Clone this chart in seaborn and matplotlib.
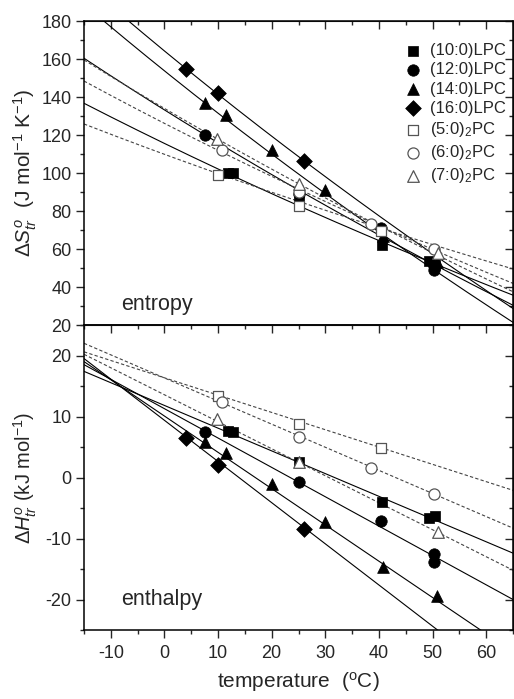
import numpy as np
import pandas as pd
import matplotlib
matplotlib.use("Agg")
import matplotlib.pyplot as plt
from matplotlib.ticker import MultipleLocator
import seaborn as sns

# ---------------- data ----------------
series = ["(10:0)LPC", "(12:0)LPC", "(14:0)LPC", "(16:0)LPC",
          "(5:0)$_2$PC", "(6:0)$_2$PC", "(7:0)$_2$PC"]

LPC10_T = [11.8, 12.7, 25, 40.5, 49.3, 50.5]
LPC10_S = [100, 100, 84.5, 62, 53.5, 51.8]
LPC10_H = [7.7, 7.4, 2.6, -4.0, -6.7, -6.3]

LPC12_T = [7.5, 25, 40.3, 50.3, 50.3]
LPC12_S = [120, 89, 71, 51, 49]
LPC12_H = [7.4, -0.7, -7.1, -12.5, -13.8]

LPC14_T = [7.5, 11.5, 20, 30, 40.8, 50.8]
LPC14_S = [137, 130.5, 112, 91, 67, 53]
LPC14_H = [5.9, 4.0, -1.0, -7.3, -14.7, -19.5]

LPC16_T = [4, 10, 26]
LPC16_S = [155, 142, 106.5]
LPC16_H = [6.4, 2.1, -8.4]

PC5_T = [10, 25, 40.3]
PC5_S = [99, 82.5, 69.7]
PC5_H = [13.4, 8.7, 4.9]

PC6_T = [10.8, 25, 38.5, 50.3]
PC6_S = [112, 90, 73, 60]
PC6_H = [12.4, 6.7, 1.5, -2.7]

PC7_T = [9.8, 25, 51]
PC7_S = [118, 94, 57.7]
PC7_H = [9.6, 2.5, -9.0]

# fit curves: values read at the ends of the temperature range
fit_T_range = [-15, 65]
fit_S_lo = [136.7, 160.4, 188.8, 200.1, 125.8, 148.4, 159.5]
fit_S_hi = [35.7, 30.4, 21.4, 28.7, 49.5, 41.9, 37.5]
fit_H_lo = [17.4, 18.5, 19.0, 19.5, 20.6, 22.0, 20.2]
fit_H_hi = [-12.4, -20.0, -28.6, -34.5, -2.1, -8.3, -15.2]

T_all = [LPC10_T, LPC12_T, LPC14_T, LPC16_T, PC5_T, PC6_T, PC7_T]
S_all = [LPC10_S, LPC12_S, LPC14_S, LPC16_S, PC5_S, PC6_S, PC7_S]
H_all = [LPC10_H, LPC12_H, LPC14_H, LPC16_H, PC5_H, PC6_H, PC7_H]

# ---------------- styling ----------------
sns.set_style("ticks")
plt.rcParams["font.family"] = ["Liberation Sans", "DejaVu Sans"]
plt.rcParams["mathtext.fontset"] = "custom"
plt.rcParams["mathtext.rm"] = "Liberation Sans"
plt.rcParams["mathtext.it"] = "Liberation Sans:italic"
plt.rcParams["mathtext.bf"] = "Liberation Sans:bold"
plt.rcParams["axes.unicode_minus"] = False

markers = ["s", "o", "^", "D", "s", "o", "^"]
msizes = [56, 68, 72, 64, 50, 64, 70]
filled = [True, True, True, True, False, False, False]
linestyles = ["-", "-", "-", "-", (0, (3, 2)), (0, (3, 2)), (0, (3, 2))]

# long-form tables
rows = []
for name, T, S, H in zip(series, T_all, S_all, H_all):
    for t, s, h in zip(T, S, H):
        rows.append((name, t, s, h))
pts = pd.DataFrame(rows, columns=["series", "T", "S", "H"])

fit_rows = []
Tk0, Tk1 = fit_T_range[0] + 273.15, fit_T_range[1] + 273.15
tgrid = np.linspace(fit_T_range[0], fit_T_range[1], 161)
for i, name in enumerate(series):
    frac_log = np.log((tgrid + 273.15) / Tk0) / np.log(Tk1 / Tk0)
    frac_lin = (tgrid - fit_T_range[0]) / (fit_T_range[1] - fit_T_range[0])
    s_curve = fit_S_lo[i] + (fit_S_hi[i] - fit_S_lo[i]) * frac_log
    h_curve = fit_H_lo[i] + (fit_H_hi[i] - fit_H_lo[i]) * frac_lin
    for t, s, h in zip(tgrid, s_curve, h_curve):
        fit_rows.append((name, t, s, h))
fits = pd.DataFrame(fit_rows, columns=["series", "T", "S", "H"])

W, Hh = 514, 699
fig = plt.figure(figsize=(W / 100, Hh / 100), dpi=100)
left = 84 / W
width = (513 - 84) / W
ax1 = fig.add_axes([left, 1 - 325 / Hh, width, (325 - 21) / Hh])
ax2 = fig.add_axes([left, 1 - 630 / Hh, width, (630 - 325) / Hh])

for ax, col in [(ax1, "S"), (ax2, "H")]:
    for i, name in enumerate(series):
        d = fits[fits.series == name]
        sns.lineplot(data=d, x="T", y=col, ax=ax, color="black" if filled[i] else "#444444",
                     lw=0.8, linestyle=linestyles[i], estimator=None, sort=False,
                     legend=False, zorder=2)
    for i, name in enumerate(series):
        d = pts[pts.series == name]
        if filled[i]:
            sns.scatterplot(data=d, x="T", y=col, ax=ax, marker=markers[i], s=msizes[i],
                            color="black", edgecolor="black", linewidth=0.5,
                            label=name, zorder=3)
        else:
            sns.scatterplot(data=d, x="T", y=col, ax=ax, marker=markers[i], s=msizes[i],
                            facecolor="white", edgecolor="#555555", linewidth=0.9,
                            label=name, zorder=4)

    ax.set_xlim(-15, 65)
    ax.xaxis.set_major_locator(MultipleLocator(10))
    ax.xaxis.set_minor_locator(MultipleLocator(5))
    for sp in ax.spines.values():
        sp.set_visible(True)
        sp.set_linewidth(1.1)
        sp.set_color("black")


def add_inner(ax, which_axis, major, minor):
    if which_axis == "right":
        sec = ax.secondary_yaxis("right")
        sec.yaxis.set_major_locator(MultipleLocator(major))
        sec.yaxis.set_minor_locator(MultipleLocator(minor))
        sec.tick_params(which="both", direction="in", labelright=False)
    else:
        sec = ax.secondary_xaxis("top")
        sec.xaxis.set_major_locator(MultipleLocator(major))
        sec.xaxis.set_minor_locator(MultipleLocator(minor))
        sec.tick_params(which="both", direction="in", labeltop=False)
    sec.tick_params(which="major", length=5.5, width=1.0)
    sec.tick_params(which="minor", length=3, width=1.0)
    return sec


# top panel
ax1.set_ylim(20, 180)
ax1.yaxis.set_major_locator(MultipleLocator(20))
ax1.yaxis.set_minor_locator(MultipleLocator(10))
ax1.tick_params(axis="x", which="both", bottom=False, top=False, labelbottom=False)
ax1.tick_params(axis="y", which="both", left=True, right=False, direction="out")
ax1.tick_params(which="major", length=5.5, width=1.0, labelsize=13)
ax1.tick_params(which="minor", length=3, width=1.0)
add_inner(ax1, "top", 10, 5)
add_inner(ax1, "right", 20, 10)
ax1.set_xlabel("")
ax1.set_ylabel(r"$\Delta S^{o}_{tr}$  (J mol$^{-1}$ K$^{-1}$)", fontsize=15)
ax1.yaxis.set_label_coords(-0.105, 0.5)
ax1.text(-8, 31, "entropy", fontsize=15.5, ha="left", va="center")

handles, labels = ax1.get_legend_handles_labels()
ax1.legend(handles, labels, loc="upper right", bbox_to_anchor=(1.01, 0.965), frameon=False,
           fontsize=12, handletextpad=0.5, labelspacing=0.25, borderaxespad=0.3,
           handlelength=1.0)

# bottom panel
ax2.set_ylim(-25, 25)
ax2.yaxis.set_major_locator(MultipleLocator(10))
ax2.yaxis.set_minor_locator(MultipleLocator(5))
ax2.tick_params(axis="x", which="both", bottom=True, top=False, direction="out")
ax2.tick_params(axis="x", which="major", pad=5)
ax2.tick_params(axis="y", which="both", left=True, right=False, direction="out")
ax2.tick_params(which="major", length=5.5, width=1.0, labelsize=13)
ax2.tick_params(which="minor", length=3, width=1.0)
add_inner(ax2, "top", 10, 5)
add_inner(ax2, "right", 10, 5)
ax2.set_xlabel(r"temperature  ($^{\rm o}$C)", fontsize=15, labelpad=6)
ax2.set_ylabel(r"$\Delta H^{o}_{tr}$ (kJ mol$^{-1}$)", fontsize=14.5)
ax2.yaxis.set_label_coords(-0.105, 0.5)
ax2.text(-8, -20, "enthalpy", fontsize=15.5, ha="left", va="center")
if ax2.get_legend() is not None:
    ax2.get_legend().remove()

fig.savefig("out.png", dpi=100, facecolor="white")
